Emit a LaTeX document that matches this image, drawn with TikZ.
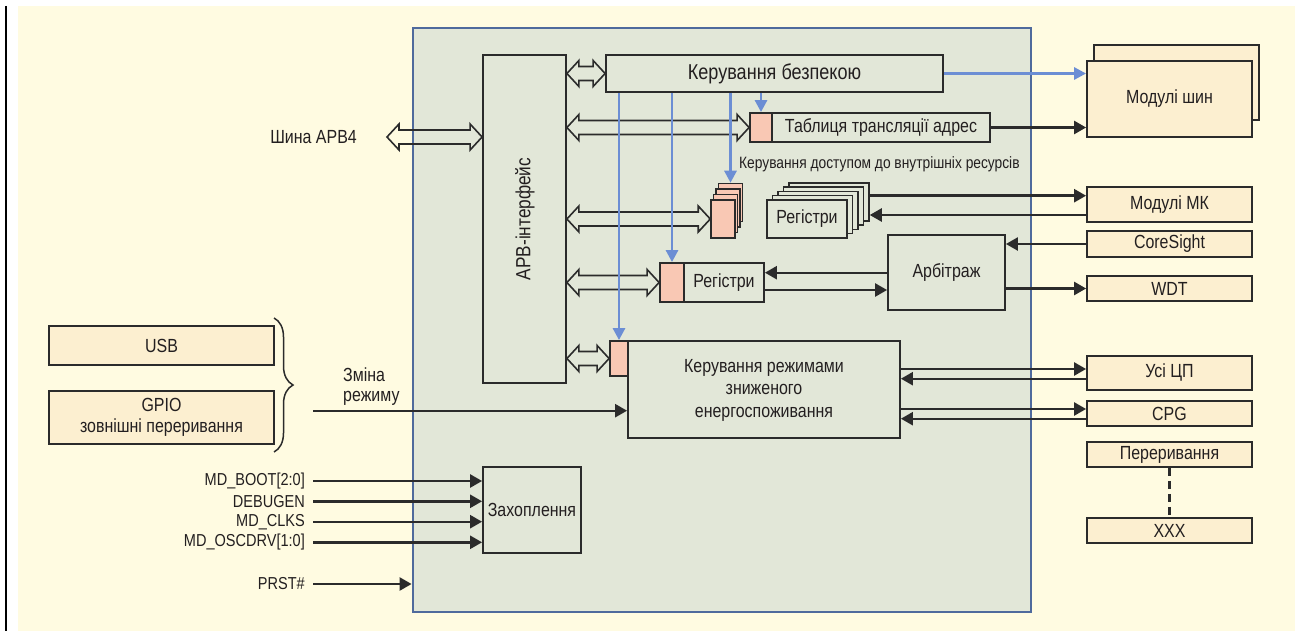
\documentclass[tikz,border=0pt]{standalone}
\usepackage{fontspec}
\setmainfont{Liberation Sans}[FakeStretch=0.84]
\usetikzlibrary{arrows.meta,decorations.pathreplacing,calc}
\definecolor{bgc}{HTML}{FFFBE1}
\definecolor{greenc}{HTML}{E2E7D8}
\definecolor{extc}{HTML}{FCEFD0}
\definecolor{pinkc}{HTML}{F9C8B4}
\definecolor{bluec}{HTML}{6C8ED4}
\definecolor{mainc}{HTML}{4F6A9C}
\definecolor{linec}{HTML}{2B2B2B}
\definecolor{txtc}{HTML}{231F20}
\newcommand\fmain{\fontsize{19}{22.5}\selectfont}
\newcommand\fbig{\fontsize{21.5}{25}\selectfont}
\newcommand\fsmall{\fontsize{16.4}{19}\selectfont}
\newcommand\finp{\fontsize{17.3}{20}\selectfont}
\newcommand\fgpio{\fontsize{19}{21}\selectfont}
\newcommand\hdbl[2]{\draw[hollow] let \p1=(#1), \p2=(#2) in
  (\x1,\y1) -- (\x1+12pt,\y1+13pt) -- (\x1+12pt,\y1+7pt) -- (\x2-12pt,\y1+7pt) -- (\x2-12pt,\y1+13pt)
  -- (\x2,\y1) -- (\x2-12pt,\y1-13pt) -- (\x2-12pt,\y1-7pt) -- (\x1+12pt,\y1-7pt) -- (\x1+12pt,\y1-13pt) -- cycle;}
\begin{document}
\begin{tikzpicture}[x=1pt,y=-1pt,
  box/.style={draw=linec, line width=1.8pt, fill=greenc, inner sep=0pt, font=\fmain, text=txtc},
  extbox/.style={box, fill=extc},
  pinkbox/.style={box, fill=pinkc},
  lbl/.style={font=\fmain, text=txtc, inner sep=0pt},
  arr/.style={draw=linec, line width=2.4pt, -{Triangle[length=12pt,width=13pt]}},
  bluearr/.style={draw=bluec, line width=2.8pt, -{Triangle[length=12pt,width=12pt]}},
  hollow/.style={draw=linec, line width=1.6pt, line join=miter}
]
\useasboundingbox (0,0) rectangle (1295,631);
% background
\fill[bgc] (18,6) rectangle (1295,631);
\draw[black, line width=2.8pt] (6,6) -- (6,631);
% main block
\node[draw=mainc, line width=2.8pt, fill=greenc, minimum width=618pt, minimum height=584pt, inner sep=0pt] (main) at (722,320) {};
% inner blocks
\node[box, minimum width=83pt, minimum height=328pt] (apb) at (524.5,219) {};
\node[lbl, rotate=90, font=\fontsize{20.5}{24}\selectfont] (apbt) at (525,219) {APB-інтерфейс};
\node[box, minimum width=337pt, minimum height=37pt, font=\fbig] (sec) at (774.5,73.5) {Керування безпекою};
\node[pinkbox, minimum width=22pt, minimum height=29pt] (tblp) at (761,127.5) {};
\node[box, minimum width=218pt, minimum height=29pt] (tbl) at (881,127.5) {Таблиця трансляції адрес};
\node[lbl, font=\fsmall, anchor=west] (acct) at (739,164) {Керування доступом до внутрішніх ресурсів};
\foreach \k in {3,2,1,0}
  \node[pinkbox, line width=1.5pt, minimum width=24pt, minimum height=38pt] (accp\k) at ({723+2.5*\k},{219-5.5*\k}) {};
\foreach \k in {4,3,2,1}
  \node[box, line width=1.5pt, minimum width=80pt, minimum height=38pt] (regs\k) at ({807+5.5*\k},{219-4.3*\k}) {};
\node[box, line width=1.5pt, minimum width=80pt, minimum height=38pt] (regs0) at (807,219) {Регістри};
\node[box, minimum width=117pt, minimum height=75pt] (arb) at (946.5,272.5) {Арбітраж};
\node[pinkbox, minimum width=24pt, minimum height=39pt] (regp) at (672,282.5) {};
\node[box, minimum width=80pt, minimum height=39pt] (reg) at (724,282.5) {Регістри};
\node[pinkbox, minimum width=18pt, minimum height=35pt] (pwrp) at (619,358.5) {};
\node[box, minimum width=272pt, minimum height=97pt] (pwr) at (764,389.5) {};
\node[lbl, align=center] (pwrt) at (764,390) {Керування режимами\\зниженого\\енергоспоживання};
\node[box, minimum width=98pt, minimum height=86pt] (cap) at (532,510) {Захоплення};
% external blocks
\node[extbox, minimum width=165pt, minimum height=75pt] (modsb) at (1176.5,82.5) {};
\node[extbox, minimum width=165pt, minimum height=76pt] (modsh) at (1169.5,99) {Модулі шин};
\node[extbox, minimum width=165pt, minimum height=35pt] (modmk) at (1169.5,204.5) {Модулі МК};
\node[extbox, minimum width=165pt, minimum height=26pt] (cs) at (1169.5,244) {CoreSight};
\node[extbox, minimum width=165pt, minimum height=25pt] (wdt) at (1169.5,288.5) {WDT};
\node[extbox, minimum width=165pt, minimum height=34pt] (cpu) at (1169.5,373) {Усі ЦП};
\node[extbox, minimum width=165pt, minimum height=25pt] (cpg) at (1169.5,413.5) {CPG};
\node[extbox, minimum width=165pt, minimum height=25pt] (irq) at (1169.5,454.5) {Переривання};
\node[extbox, minimum width=165pt, minimum height=25pt] (xxx) at (1169.5,530.5) {XXX};
\node[extbox, minimum width=225pt, minimum height=39pt] (usb) at (161.5,345.5) {USB};
\node[extbox, minimum width=225pt, minimum height=53pt, align=center, font=\fgpio] (gpio) at (161.5,417.5) {GPIO\\зовнішні переривання};
% brace
\draw[linec, line width=1.5pt, decorate, decoration={brace, amplitude=19pt}] (274,318) -- (274,452);
% labels
\node[lbl, anchor=east] (apb4t) at (357,137) {Шина APB4};
\coordinate (apb4) at (387,137);
\node[lbl, anchor=west, align=left, font=\fontsize{19}{20}\selectfont] (modet) at (343,387) {Зміна\\режиму};
\coordinate (mode) at (313,410.7);
\node[lbl, font=\finp, anchor=east] (l1) at (305,481) {MD\_BOOT[2:0]};
\node[lbl, font=\finp, anchor=east] (l2) at (305,501.3) {DEBUGEN};
\node[lbl, font=\finp, anchor=east] (l3) at (305,521.7) {MD\_CLKS};
\node[lbl, font=\finp, anchor=east] (l4) at (305,542.3) {MD\_OSCDRV[1:0]};
\node[lbl, font=\finp, anchor=east] (l5) at (305,584) {PRST\#};
\coordinate (i1) at (313,481);
\coordinate (i2) at (313,501.3);
\coordinate (i3) at (313,521.7);
\coordinate (i4) at (313,542.3);
\coordinate (i5) at (313,584);
% hollow double arrows
\hdbl{apb4}{apb.west |- apb4}
\hdbl{apb.east |- sec.west}{sec.west}
\hdbl{apb.east |- tblp.west}{tblp.west}
\hdbl{apb.east |- accp0.west}{accp0.west}
\hdbl{apb.east |- regp.west}{regp.west}
\hdbl{apb.east |- pwrp.west}{pwrp.west}
% blue arrows
\draw[bluearr] (sec.south -| pwrp.north) -- (pwrp.north);
\draw[bluearr] (sec.south -| regp.north) -- (regp.north);
\draw[bluearr] (sec.south -| accp3.north) -- (accp3.north);
\draw[bluearr] (sec.south -| tblp.north) -- (tblp.north);
\draw[bluearr] (sec.east) -- (sec.east -| modsh.west);
% black arrows
\draw[arr] (tbl.east) -- (tbl.east -| modsh.west);
\draw[arr] (regs4.east |- 0,195.7) -- (modmk.west |- 0,195.7);
\draw[arr] (modmk.west |- 0,215) -- (regs4.east |- 0,215);
\draw[arr] (cs.west) -- (cs.west -| arb.east);
\draw[arr] (arb.east |- wdt.west) -- (wdt.west);
\draw[arr] (arb.west |- 0,272.7) -- (reg.east |- 0,272.7);
\draw[arr] (reg.east |- 0,290) -- (arb.west |- 0,290);
\draw[arr] (pwr.east |- 0,369) -- (cpu.west |- 0,369);
\draw[arr] (cpu.west |- 0,378.7) -- (pwr.east |- 0,378.7);
\draw[arr] (pwr.east |- 0,409) -- (cpg.west |- 0,409);
\draw[arr] (cpg.west |- 0,418.7) -- (pwr.east |- 0,418.7);
\draw[linec, line width=2.2pt, dash pattern=on 8pt off 5pt] (irq.south) -- (xxx.north);
\draw[arr] (mode) -- (mode -| pwr.west);
\foreach \i in {1,2,3,4} \draw[arr] (i\i) -- (i\i -| cap.west);
\draw[arr] (i5) -- (i5 -| main.west);
\end{tikzpicture}
\end{document}
